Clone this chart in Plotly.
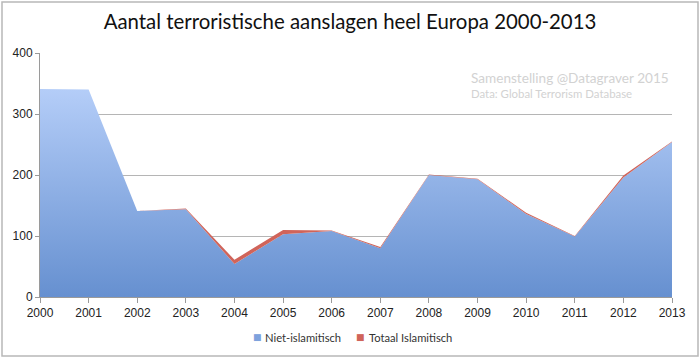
import plotly.graph_objects as go

years = list(range(2000, 2014))
niet_islamitisch = [341, 340, 141, 144, 54, 103, 108, 80, 200, 193, 136, 99, 196, 254]
islamitisch = [0, 0, 0, 1, 7, 7, 1, 2, 1, 1, 2, 1, 3, 1]
y_ticks = [0, 100, 200, 300, 400]
series_names = ["Niet-islamitisch", "Totaal Islamitisch"]
series_colors = ["#7ea2dd", "#d0645a"]

W, H = 700, 360
L, R, T, B = 40, 28, 53, 63
pw, ph = W - L - R, H - T - B

def px_x(x):
    return (x - L) / pw

def px_y(y):
    return (H - B - y) / ph

fig = go.Figure()
fig.add_trace(go.Scatter(
    x=years, y=niet_islamitisch, name=series_names[0],
    stackgroup="one", mode="lines", line=dict(width=0, color=series_colors[0]),
    fillgradient=dict(type="vertical", start=0, stop=340,
                      colorscale=[[0, "#6690d0"], [1, "#b4cdf8"]]),
    fillcolor=series_colors[0], showlegend=False,
))
fig.add_trace(go.Scatter(
    x=years, y=islamitisch, name=series_names[1],
    stackgroup="one", mode="lines", line=dict(width=0, color=series_colors[1]),
    fillcolor=series_colors[1], showlegend=False,
))

legend_anns = []
for name, col, sq_x, tx_x in zip(series_names, series_colors, [257.5, 360.5], [263, 367]):
    legend_anns.append(dict(text="■", xref="paper", yref="paper", x=px_x(sq_x), y=px_y(337),
                            xanchor="center", yanchor="middle", showarrow=False,
                            font=dict(family="DejaVu Sans", size=9, color=col)))
    legend_anns.append(dict(text=name, xref="paper", yref="paper", x=px_x(tx_x), y=px_y(337),
                            xanchor="left", yanchor="middle", showarrow=False,
                            font=dict(family="Lato, Noto Sans, sans-serif", size=11.2, color="#333")))

fig.update_layout(
    width=W, height=H,
    margin=dict(l=L, r=R, t=T, b=B, autoexpand=False),
    paper_bgcolor="white", plot_bgcolor="white",
    title=dict(text="Aantal terroristische aanslagen heel Europa 2000-2013",
               x=0.5, xanchor="center", y=1 - 22 / H, yanchor="middle",
               font=dict(family="Lato, Noto Sans, sans-serif", size=20.4, color="#111")),
    font=dict(family="Liberation Sans, Arial, sans-serif", size=11, color="#333"),
    showlegend=False,
    xaxis=dict(range=[2000, 2013], tickvals=years, ticktext=[str(y) for y in years],
               showgrid=False, showline=True, linecolor="#9a9a9a", linewidth=1,
               ticks="outside", ticklen=5, tickcolor="#9a9a9a", zeroline=False,
               tickfont=dict(family="Liberation Sans, Arial, sans-serif", size=12, color="#222")),
    yaxis=dict(range=[0, 400], tickvals=y_ticks, showgrid=True, gridcolor="#b5b5b5",
               gridwidth=1, showline=True, linecolor="#9a9a9a", linewidth=1,
               zeroline=False, ticks="outside", ticklen=4, tickcolor="#9a9a9a",
               tickfont=dict(family="Liberation Sans, Arial, sans-serif", size=12, color="#222")),
    shapes=[dict(type="rect", xref="paper", yref="paper",
                 x0=px_x(2), x1=px_x(698), y0=px_y(356), y1=px_y(2),
                 line=dict(color="#b8b8b8", width=1.5), layer="above")],
    annotations=[
        dict(text="Samenstelling @Datagraver 2015", xref="paper", yref="paper",
             x=px_x(469), y=px_y(78), xanchor="left", yanchor="middle", showarrow=False,
             font=dict(family="Lato, Noto Sans, sans-serif", size=13.6, color="#d2d2d2")),
        dict(text="Data: Global Terrorism Database", xref="paper", yref="paper",
             x=px_x(469), y=px_y(93), xanchor="left", yanchor="middle", showarrow=False,
             font=dict(family="Lato, Noto Sans, sans-serif", size=11.4, color="#d2d2d2")),
    ] + legend_anns,
)

fig.write_html("out.html", config={"displayModeBar": False},
               post_script="document.body.style.margin='0';")
